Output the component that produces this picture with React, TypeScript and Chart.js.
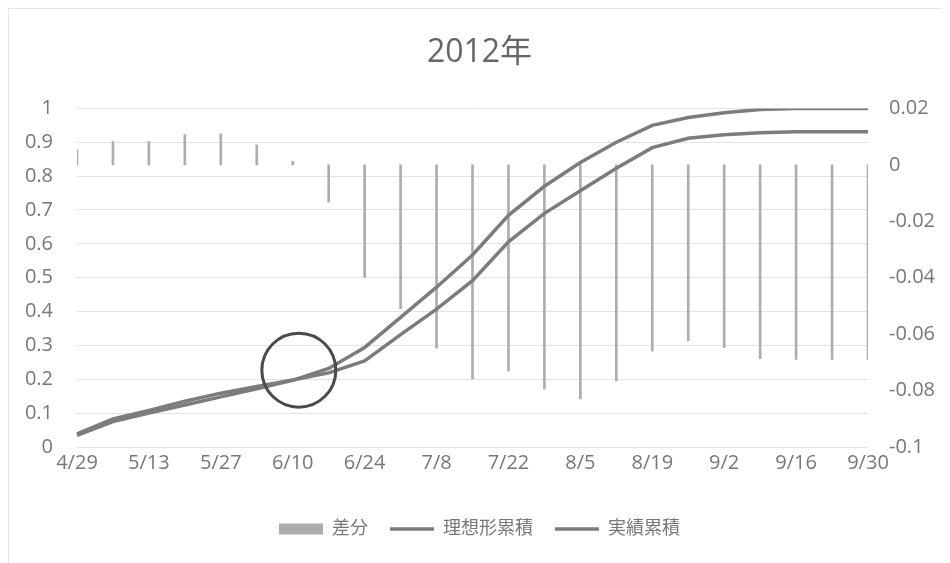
import React, { useEffect, useRef } from "react";
import { Chart, registerables } from "chart.js";

Chart.register(...registerables);

const TITLE = "2012年";
const LABELS = [
  "4/29", "5/6", "5/13", "5/20", "5/27", "6/3", "6/10", "6/17", "6/24", "7/1", "7/8", "7/15",
  "7/22", "7/29", "8/5", "8/12", "8/19", "8/26", "9/2", "9/9", "9/16", "9/23", "9/30",
];
const DIFF = [
  0.0053, 0.0082, 0.0082, 0.0107, 0.011, 0.0071, 0.0012, -0.0132, -0.0399, -0.051, -0.065, -0.0759,
  -0.073, -0.0795, -0.083, -0.0766, -0.066, -0.0623, -0.0648, -0.0687, -0.069, -0.069, -0.069,
];
const IDEAL = [
  0.034, 0.075, 0.1, 0.124, 0.148, 0.172, 0.197, 0.232, 0.294, 0.383, 0.472, 0.567,
  0.684, 0.77, 0.84, 0.9, 0.95, 0.973, 0.987, 0.997, 1.0, 1.0, 1.0,
];
const ACTUAL = [
  0.039, 0.083, 0.108, 0.135, 0.159, 0.179, 0.198, 0.219, 0.254, 0.332, 0.407, 0.491,
  0.606, 0.69, 0.757, 0.823, 0.884, 0.912, 0.922, 0.928, 0.931, 0.931, 0.931,
];
const SERIES_NAMES = ["差分", "理想形累積", "実績累積"];
const CIRCLE_AT = { index: 6.17, value: 0.227 };

const FONT = "'Open Sans', 'Noto Sans CJK JP', sans-serif";
const TEXT = "#777777";
const BAR_COLOR = "#adadad";
const LINE_COLOR = "#7c7c7c";

const fmt = (v: any) => String(Number(Number(v).toFixed(2)));

const circlePlugin = {
  id: "circleMark",
  afterDatasetsDraw(chart: any) {
    const { ctx, scales } = chart;
    const x = scales.x.getPixelForValue(CIRCLE_AT.index);
    const y = scales.y.getPixelForValue(CIRCLE_AT.value);
    ctx.save();
    ctx.beginPath();
    ctx.arc(x, y, 37, 0, Math.PI * 2);
    ctx.strokeStyle = "#4a4a4a";
    ctx.lineWidth = 3;
    ctx.stroke();
    ctx.restore();
  },
};

export default function App() {
  const ref = useRef<HTMLCanvasElement>(null);
  useEffect(() => {
    if (!ref.current) return;
    const chart = new Chart(ref.current, {
      type: "bar",
      data: {
        labels: LABELS,
        datasets: [
          {
            type: "bar",
            label: SERIES_NAMES[0],
            data: DIFF,
            yAxisID: "y2",
            backgroundColor: BAR_COLOR,
            borderWidth: 0,
            barThickness: 2,
            order: 2,
          } as any,
          {
            type: "line",
            label: SERIES_NAMES[1],
            data: IDEAL,
            yAxisID: "y",
            borderColor: LINE_COLOR,
            backgroundColor: LINE_COLOR,
            borderWidth: 3.5,
            pointRadius: 0,
            tension: 0,
            order: 1,
            pointStyle: "line",
          },
          {
            type: "line",
            label: SERIES_NAMES[2],
            data: ACTUAL,
            yAxisID: "y",
            borderColor: LINE_COLOR,
            backgroundColor: LINE_COLOR,
            borderWidth: 3.5,
            pointRadius: 0,
            tension: 0,
            order: 1,
            pointStyle: "line",
          },
        ],
      },
      options: {
        responsive: false,
        animation: false,
        layout: { padding: { left: 0, right: 0, top: 0, bottom: 15 } },
        plugins: {
          title: {
            display: true,
            text: TITLE,
            color: "#666666",
            font: { family: FONT, size: 32, weight: "normal" },
            padding: { top: 25, bottom: 36 },
          },
          legend: {
            position: "bottom",
            labels: {
              usePointStyle: true,
              pointStyleWidth: 44,
              boxHeight: 11,
              color: TEXT,
              padding: 22,
              font: { family: FONT, size: 18 },
              sort: (a: any, b: any) => a.datasetIndex - b.datasetIndex,
              generateLabels: (c: any) => {
                const items = Chart.defaults.plugins.legend.labels.generateLabels(c);
                return items.map((it: any) => {
                  if (it.datasetIndex === 0) {
                    return { ...it, pointStyle: "line", lineWidth: 11, strokeStyle: BAR_COLOR, lineCap: "butt" };
                  }
                  return { ...it, pointStyle: "line", lineWidth: 3.5, strokeStyle: LINE_COLOR, lineCap: "butt" };
                });
              },
            },
          },
          tooltip: { enabled: false },
        },
        scales: {
          x: {
            offset: false,
            grid: { display: false, drawTicks: false },
            border: { display: false },
            ticks: {
              autoSkip: false,
              maxRotation: 0,
              padding: 4,
              color: TEXT,
              font: { family: FONT, size: 20 },
              callback: (_v: any, i: number) => (i % 2 === 0 ? LABELS[i] : ""),
            },
            afterFit: (s: any) => {
              s.height = 51;
            },
          },
          y: {
            position: "left",
            min: 0,
            max: 1,
            ticks: { stepSize: 0.1, padding: 24, color: TEXT, font: { family: FONT, size: 20 }, callback: fmt },
            grid: { color: "#e3e3e3", drawTicks: false, lineWidth: 1 },
            border: { display: false },
            afterFit: (s: any) => {
              s.width = 68;
            },
          },
          y2: {
            position: "right",
            min: -0.1,
            max: 0.02,
            ticks: { stepSize: 0.02, padding: 21, color: TEXT, font: { family: FONT, size: 20 }, callback: fmt },
            grid: { display: false, drawTicks: false },
            border: { display: false },
            afterFit: (s: any) => {
              s.width = 82;
            },
          },
        },
      },
      plugins: [circlePlugin],
    });
    return () => chart.destroy();
  }, []);

  return (
    <div
      style={{
        width: 942,
        height: 555,
        borderTop: "1px solid #e6e6e6",
        borderLeft: "1px solid #e6e6e6",
        boxSizing: "border-box",
        background: "#ffffff",
      }}
    >
      <canvas ref={ref} width={941} height={554} style={{ width: 941, height: 554, display: "block" }} />
    </div>
  );
}
